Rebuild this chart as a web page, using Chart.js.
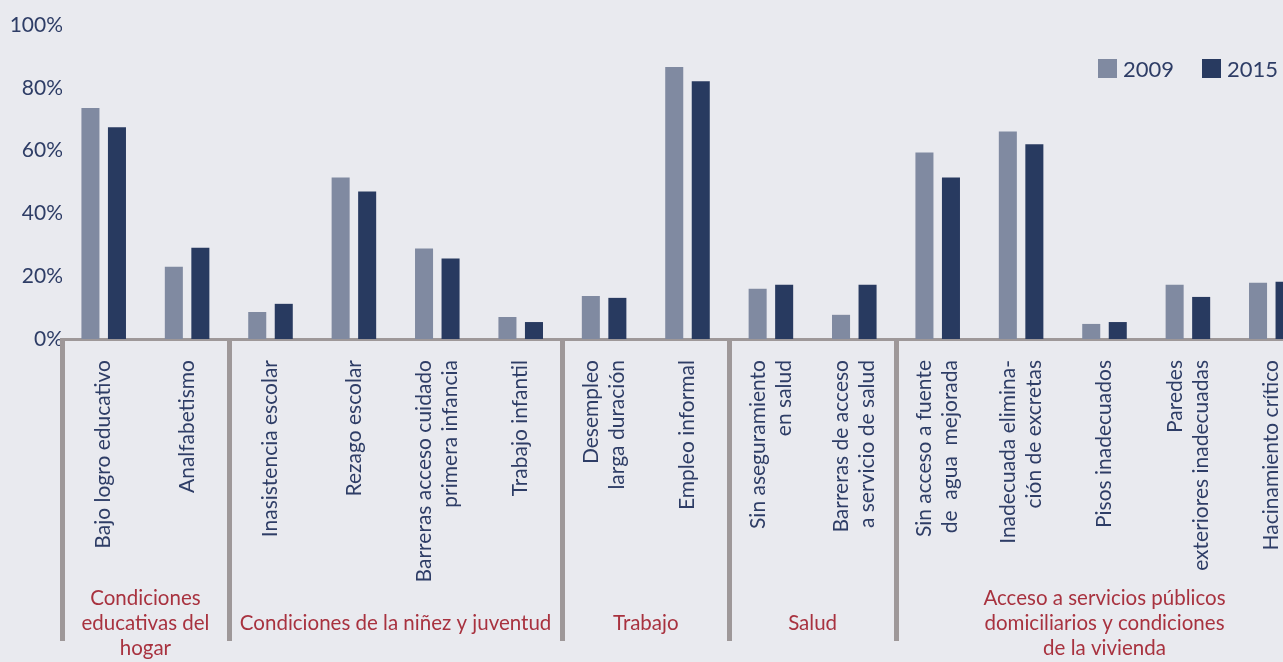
<!DOCTYPE html>
<html><head><meta charset="utf-8">
<script src="https://cdn.jsdelivr.net/npm/chart.js@4.4.1/dist/chart.umd.min.js"></script>
<style>
html,body{margin:0;padding:0;background:#e9eaef;overflow:hidden;width:1283px;height:662px;}
#wrap{position:absolute;left:0;top:0;width:1313px;height:662px;}
</style></head><body>
<div id="wrap"><canvas id="c"></canvas></div>
<script>
const categories = [
  ["Bajo logro educativo"],
  ["Analfabetismo"],
  ["Inasistencia escolar"],
  ["Rezago escolar"],
  ["Barreras acceso cuidado", "primera infancia"],
  ["Trabajo infantil"],
  ["Desempleo", "larga duración"],
  ["Empleo informal"],
  ["Sin aseguramiento", "en salud"],
  ["Barreras de acceso", "a servicio de salud"],
  ["Sin acceso a fuente", "de  agua  mejorada"],
  ["Inadecuada elimina-", "ción de excretas"],
  ["Pisos inadecuados"],
  ["Paredes", "exteriores inadecuadas"],
  ["Hacinamiento crítico"]
];
const groupNames = [
  ["Condiciones", "educativas del", "hogar"],
  ["Condiciones de la niñez y juventud"],
  ["Trabajo"],
  ["Salud"],
  ["Acceso a servicios públicos", "domiciliarios y condiciones", "de la vivienda"]
];
const groupSizes = [2, 4, 2, 2, 5];
const seriesNames = ["2009", "2015"];
const values2009 = [73.6, 23.0, 8.6, 51.4, 28.8, 7.0, 13.7, 86.6, 16.0, 7.7, 59.4, 66.1, 4.8, 17.3, 17.9];
const values2015 = [67.4, 29.1, 11.2, 47.0, 25.6, 5.4, 13.1, 82.1, 17.3, 17.3, 51.4, 62.0, 5.4, 13.4, 18.2];
const yTicks = [0, 20, 40, 60, 80, 100];

const FONT = 'Lato, "Open Sans", sans-serif';
const NAVY_TEXT = '#2e3d66';
const RED = '#a8323f';
const GREY = '#9e9899';
const COLORS = ['#808aa1', '#283a60'];

const overlay = {
  id: 'overlay',
  afterDraw(chart) {
    const {ctx, chartArea: a, scales: {x}} = chart;
    ctx.save();
    // group separators
    const bounds = [x.getPixelForValue(-0.5)];
    let idx = 0;
    groupSizes.forEach(n => { idx += n; bounds.push(x.getPixelForValue(idx - 0.5)); });
    ctx.fillStyle = GREY;
    for (let i = 0; i < bounds.length - 1; i++) {
      ctx.fillRect(Math.round(bounds[i]) - 2, a.bottom, 5, 302);
    }
    ctx.fillRect(Math.round(bounds[0]) - 2, a.bottom - 1, 6, 3);
    // category labels
    ctx.fillStyle = NAVY_TEXT;
    ctx.font = '21px ' + FONT;
    ctx.textAlign = 'right';
    ctx.textBaseline = 'middle';
    const LH = 26;
    chart.data.labels.forEach((lines, i) => {
      const cx = x.getPixelForValue(i);
      lines.forEach((t, j) => {
        ctx.save();
        ctx.translate(cx + (j - (lines.length - 1) / 2) * LH, a.bottom + 21);
        ctx.rotate(-Math.PI / 2);
        ctx.fillText(t, 0, 0);
        ctx.restore();
      });
    });
    // group labels
    ctx.fillStyle = RED;
    ctx.textAlign = 'center';
    ctx.font = '20.5px ' + FONT;
    groupNames.forEach((lines, g) => {
      const cx = (bounds[g] + bounds[g + 1]) / 2;
      lines.forEach((t, j) => {
        ctx.fillText(t, cx, 623 + (j - (lines.length - 1) / 2) * 25);
      });
    });
    // legend
    ctx.font = '22px ' + FONT;
    ctx.textAlign = 'left';
    const legendX = [1098, 1202];
    chart.data.datasets.forEach((ds, i) => {
      ctx.fillStyle = ds.backgroundColor;
      ctx.fillRect(legendX[i], 59, 19, 19);
      ctx.fillStyle = NAVY_TEXT;
      ctx.fillText(ds.label, legendX[i] + 25, 69.5);
    });
    ctx.restore();
  }
};

new Chart(document.getElementById('c'), {
  type: 'bar',
  data: {
    labels: categories,
    datasets: [
      {label: seriesNames[0], data: values2009, backgroundColor: COLORS[0]},
      {label: seriesNames[1], data: values2015, backgroundColor: COLORS[1]}
    ]
  },
  options: {
    responsive: true,
    maintainAspectRatio: false,
    animation: false,
    events: [],
    layout: {padding: {top: 25, left: 0, right: 0, bottom: 0}},
    datasets: {bar: {categoryPercentage: 0.636, barPercentage: 0.68}},
    plugins: {legend: {display: false}, tooltip: {enabled: false}},
    scales: {
      x: {
        grid: {display: false, drawTicks: false},
        border: {display: true, color: GREY, width: 3},
        ticks: {display: false},
        afterFit(s) { s.height = 662 - 339; }
      },
      y: {
        min: 0, max: 100,
        afterBuildTicks(s) { s.ticks = yTicks.map(v => ({value: v})); },
        grid: {display: false, drawTicks: false},
        border: {display: false},
        ticks: {
          padding: -1,
          color: NAVY_TEXT,
          font: {family: FONT, size: 21},
          callback: v => v + '%'
        },
        afterFit(s) { s.width = 62; }
      }
    }
  },
  plugins: [overlay]
});
</script>
</body></html>
